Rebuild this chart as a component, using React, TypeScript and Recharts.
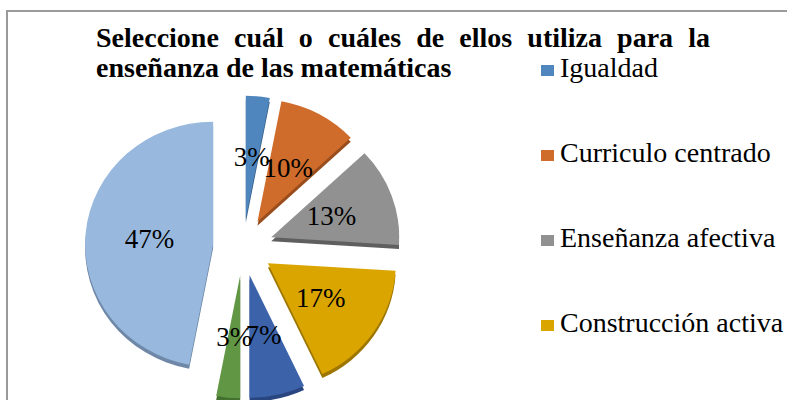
import React from 'react';
import { PieChart, Pie, Cell, Legend, Sector, Tooltip } from 'recharts';

const categories = [
  'Igualdad',
  'Curriculo centrado',
  'Enseñanza afectiva',
  'Construcción activa',
  'Evaluación',
  'Tecnología',
  'Todos los anteriores',
];
const percentages = [3, 10, 13, 17, 7, 3, 47];
const faceColors = ['#4f86bd', '#cf6c2c', '#919191', '#dba500', '#3c63a9', '#619645', '#98b8de'];
const sideColors = ['#36608a', '#9a4d1c', '#5f5f5f', '#9c7600', '#2a4680', '#44702f', '#6f88a8'];
// Only the legend entries that fit in the visible chart area are shown (as in the reference)
const visibleLegendCount = 4;
const titleLines = ['Seleccione cuál o cuáles de ellos utiliza para la', 'enseñanza de las matemáticas'];

const data = categories.map((name, i) => ({ name, value: percentages[i] }));

const CX = 243;
const CY = 247;
const R = 128;
const EXPLODE = 30;
const SQUASH = 0.958;
const DEPTH = 4;
const LABEL_R = 64;
const RAD = Math.PI / 180;
const FONT = '"Liberation Serif", "Times New Roman", serif';

function ExplodedSector(props: any) {
  const { cx, cy, outerRadius, startAngle, endAngle, midAngle, fill, name } = props;
  const idx = categories.indexOf(name);
  const dx = EXPLODE * Math.cos(-midAngle * RAD);
  const dy = EXPLODE * Math.sin(-midAngle * RAD);
  const t = `translate(0 ${cy}) scale(1 ${SQUASH}) translate(0 ${-cy})`;
  return (
    <g transform={t}>
      <Sector
        cx={cx + dx}
        cy={cy + dy + DEPTH / SQUASH}
        innerRadius={0}
        outerRadius={outerRadius}
        startAngle={startAngle}
        endAngle={endAngle}
        fill={sideColors[idx >= 0 ? idx : 0]}
        stroke="none"
      />
      <Sector
        cx={cx + dx}
        cy={cy + dy}
        innerRadius={0}
        outerRadius={outerRadius}
        startAngle={startAngle}
        endAngle={endAngle}
        fill={fill}
        stroke="none"
      />
    </g>
  );
}

function renderLabel(props: any) {
  const { cx, cy, midAngle, value } = props;
  const d = EXPLODE + LABEL_R;
  const x = cx + d * Math.cos(-midAngle * RAD);
  const y = cy + SQUASH * d * Math.sin(-midAngle * RAD);
  return (
    <text
      x={x}
      y={y}
      textAnchor="middle"
      dominantBaseline="central"
      fill="#000"
      style={{ fontFamily: FONT, fontSize: 27 }}
    >
      {`${value}%`}
    </text>
  );
}

function LegendContent() {
  return (
    <div style={{ position: 'relative', fontFamily: FONT }}>
      {categories.slice(0, visibleLegendCount).map((name, i) => (
        <div key={name} style={{ position: 'absolute', left: 0, top: i * 85, width: 240, height: 84 }}>
          <div
            style={{
              position: 'absolute',
              left: 0,
              top: 15,
              width: 13,
              height: 11,
              background: faceColors[i],
            }}
          />
          <div
            style={{
              position: 'absolute',
              left: 19,
              top: 4,
              fontSize: 28,
              lineHeight: '28px',
              whiteSpace: 'nowrap',
              color: '#000',
            }}
          >
            {name}
          </div>
        </div>
      ))}
    </div>
  );
}

export default function App() {
  return (
    <div
      style={{
        position: 'absolute',
        left: 0,
        top: 0,
        width: 787,
        height: 400,
        overflow: 'hidden',
        background: '#fff',
        fontFamily: FONT,
      }}
    >
      <div
        style={{
          position: 'absolute',
          left: 6,
          top: 10,
          width: 900,
          height: 700,
          border: '2px solid #9a9a9a',
          boxSizing: 'border-box',
        }}
      />
      <div style={{ position: 'absolute', left: 0, top: 0 }}>
        <PieChart width={787} height={400} margin={{ top: 0, right: 0, bottom: 0, left: 0 }}>
          <Pie
            data={data}
            dataKey="value"
            nameKey="name"
            cx={CX}
            cy={CY}
            outerRadius={R}
            startAngle={90}
            endAngle={-270}
            stroke="none"
            isAnimationActive={false}
            labelLine={false}
            label={renderLabel}
            {...({ shape: ExplodedSector } as any)}
            activeShape={ExplodedSector}
            inactiveShape={ExplodedSector}
          >
            {data.map((d, i) => (
              <Cell key={d.name} fill={faceColors[i]} />
            ))}
          </Pie>
          <Tooltip defaultIndex={0} content={() => null} cursor={false} />
          <Legend
            content={<LegendContent />}
            wrapperStyle={{ left: 541, top: 50, width: 240, height: 340, bottom: 'auto' }}
          />
        </PieChart>
      </div>
      <div
        style={{
          position: 'absolute',
          left: 96,
          top: 23,
          width: 614,
          fontFamily: FONT,
          fontWeight: 'bold',
          fontSize: 28,
          lineHeight: '30px',
          whiteSpace: 'nowrap',
          textAlign: 'justify',
          textAlignLast: 'justify',
          color: '#000',
        }}
      >
        {titleLines[0]}
      </div>
      <div
        style={{
          position: 'absolute',
          left: 96,
          top: 53,
          fontFamily: FONT,
          fontWeight: 'bold',
          fontSize: 28,
          lineHeight: '30px',
          whiteSpace: 'nowrap',
          color: '#000',
        }}
      >
        {titleLines[1]}
      </div>
    </div>
  );
}
